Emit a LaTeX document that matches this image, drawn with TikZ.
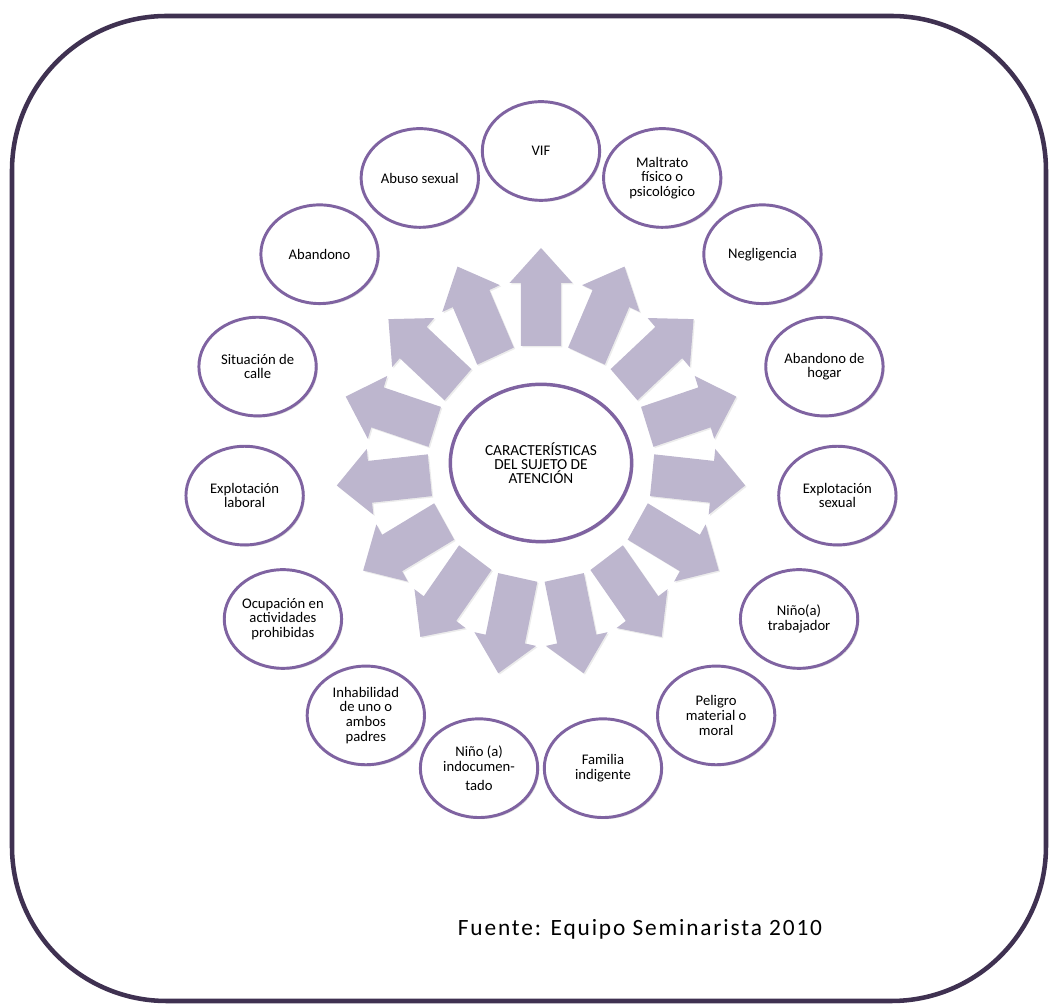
\documentclass[tikz,border=0pt]{standalone}
\usepackage{fontspec}
\setmainfont{Carlito}
\newfontfamily\sourcefont[LetterSpace=8]{Carlito}
\usetikzlibrary{shapes.geometric,shadows}
\definecolor{frameplum}{HTML}{3F3151}
\definecolor{ringpurple}{HTML}{7F63A1}
\definecolor{arrowlilac}{HTML}{BDB6CE}

\begin{document}
\begin{tikzpicture}[x=0.75pt,y=0.75pt]
  \tikzstyle{frame} = [draw=frameplum, line width=3.4pt, rounded corners=116pt]
  \tikzstyle{hub} = [ellipse, draw=ringpurple, line width=2.6pt, fill=white, minimum width=136pt, minimum height=118pt, inner sep=0pt, align=center, font=\fontsize{11.5}{10.5}\selectfont, drop shadow={opacity=0.25, shadow xshift=1.2pt, shadow yshift=-1.2pt}]
  \tikzstyle{item} = [ellipse, draw=ringpurple, line width=2.2pt, fill=white, minimum width=88pt, minimum height=74pt, inner sep=0pt, align=center, font=\fontsize{11}{11}\selectfont, drop shadow={opacity=0.25, shadow xshift=1.2pt, shadow yshift=-1.2pt}]
  \tikzstyle{spoke} = [fill=arrowlilac, drop shadow={opacity=0.15, shadow xshift=1pt, shadow yshift=-1pt}]

  \useasboundingbox (-541,-542) rectangle (510,463);
  \draw [frame] (-529,-538) rectangle (505,447);

  % block arrows, one for every item
  \foreach \a in {90,66,...,-246}
    \fill [spoke, xscale=0.955, rotate=\a] (117,-21) -- (180,-21) -- (180,-33) -- (215,0) -- (180,33) -- (180,21) -- (117,21) -- cycle;

  \node (hub) [hub] at (0,0) {CARACTERÍSTICAS\\DEL SUJETO DE\\ATENCIÓN};

  \node (vif) [item] at (90:298 and 312) {VIF};
  \node (maltrato) [item] at (66:298 and 312) {Maltrato\\físico o\\psicológico};
  \node (negligencia) [item] at (42:298 and 312) {Negligencia};
  \node (hogar) [item] at (18:298 and 312) {Abandono de\\hogar};
  \node (sexual) [item] at (-6:298 and 312) {Explotación\\sexual};
  \node (trabajador) [item] at (-30:298 and 312) {Niño(a)\\trabajador};
  \node (peligro) [item] at (-54:298 and 312) {Peligro\\material o\\moral};
  \node (familia) [item] at (-78:298 and 312) {Familia\\indigente};
  \node (indocumentado) [item] at (-102:298 and 312) {Niño (a)\\indocumen-\\[3pt]tado};
  \node (inhabilidad) [item] at (-126:298 and 312) {Inhabilidad\\de uno o\\ambos\\padres};
  \node (ocupacion) [item] at (-150:298 and 312) {Ocupación en\\actividades\\prohibidas};
  \node (laboral) [item] at (-174:298 and 312) {Explotación\\laboral};
  \node (calle) [item] at (-198:298 and 312) {Situación de\\calle};
  \node (abandono) [item] at (-222:298 and 312) {Abandono};
  \node (abuso) [item] at (-246:298 and 312) {Abuso sexual};

  \node (source) [font=\sourcefont\fontsize{17.5}{20}\selectfont] at (99,-466) {Fuente: Equipo Seminarista 2010};
\end{tikzpicture}
\end{document}
